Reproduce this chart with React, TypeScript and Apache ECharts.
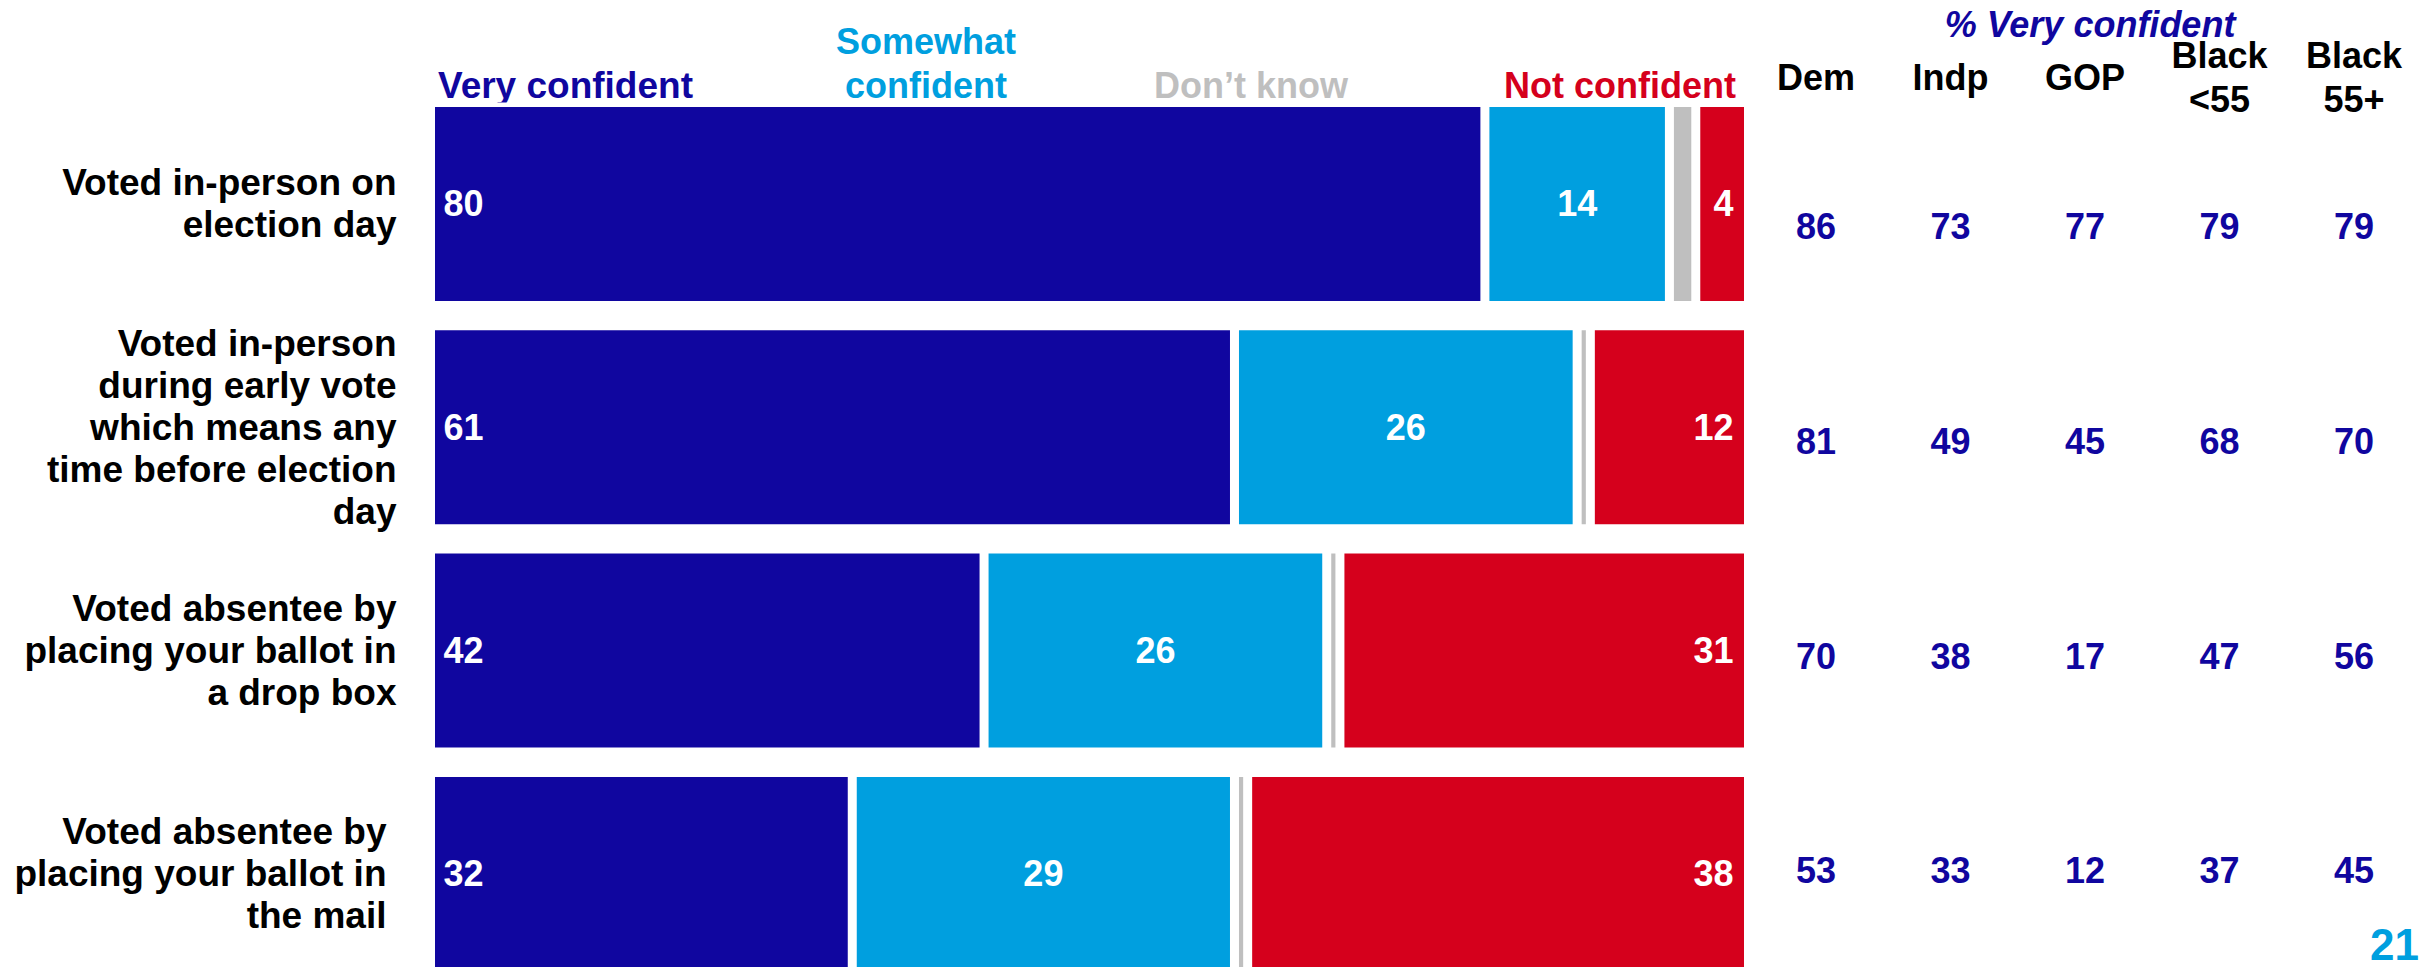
import React, { useEffect, useRef } from "react";
import * as echarts from "echarts";

// ---- Data ----
const categories = [
  "Voted in-person on\nelection day",
  "Voted in-person\nduring early vote\nwhich means any\ntime before election\nday",
  "Voted absentee by\nplacing your ballot in\na drop box",
  "Voted absentee by\nplacing your ballot in\nthe mail",
];
const seriesNames = ["Very confident", "Somewhat confident", "Don’t know", "Not confident"];
const legendLabels = ["Very confident", "Somewhat\nconfident", "Don’t know", "Not confident"];
const veryConfident = [80, 61, 42, 32];
const somewhatConfident = [14, 26, 26, 29];
const dontKnow = [2, 1, 1, 1];
const notConfident = [4, 12, 31, 38];

const groupLabels = ["Dem", "Indp", "GOP", "Black\n<55", "Black\n55+"];
const dem = [86, 81, 70, 53];
const indp = [73, 49, 38, 33];
const gop = [77, 45, 17, 12];
const blackUnder55 = [79, 68, 47, 37];
const black55Plus = [79, 70, 56, 45];
const groupTitle = "% Very confident";
const pageNumber = "21";

// ---- Styles ----
const FONT = '"Liberation Sans", Arial, Helvetica, sans-serif';
const DARK_BLUE = "#10069F";
const LIGHT_BLUE = "#009FDF";
const GRAY = "#BFBFBF";
const RED = "#D5001C";
const colors = [DARK_BLUE, LIGHT_BLUE, GRAY, RED];

export default function App() {
  const ref = useRef<HTMLDivElement>(null);

  useEffect(() => {
    if (!ref.current) return;
    const chart = echarts.init(ref.current, null, { renderer: "svg" });

    const stackValues = [veryConfident, somewhatConfident, dontKnow, notConfident];
    const labelPos = ["insideLeft", "inside", "inside", "insideRight"];
    const labelDist = [13, 5, 5, 15];

    const barSeries = stackValues.map((vals, i) => ({
      name: seriesNames[i],
      type: "bar",
      stack: "total",
      xAxisIndex: 0,
      yAxisIndex: 0,
      barWidth: 203,
      data: vals,
      itemStyle: { color: colors[i], borderColor: "#ffffff", borderWidth: 4.5 },
      label: {
        show: i !== 2,
        position: labelPos[i],
        distance: labelDist[i],
        color: "#ffffff",
        fontFamily: FONT,
        fontWeight: "bold",
        fontSize: 36,
      },
      silent: true,
    }));

    const groupCols = [dem, indp, gop, blackUnder55, black55Plus];
    const tableSeries = groupCols.map((vals, c) => ({
      name: groupLabels[c],
      type: "scatter",
      xAxisIndex: 1,
      yAxisIndex: 1,
      symbolSize: 1,
      itemStyle: { color: "rgba(0,0,0,0)", opacity: 1 },
      data: vals.map((v, r) => [c, r, v]),
      label: {
        show: true,
        position: "inside",
        formatter: (p: any) => String(p.value[2]),
        color: DARK_BLUE,
        opacity: 1,
        fontFamily: FONT,
        fontWeight: "bold",
        fontSize: 36,
      },
      silent: true,
    }));

    const legendX = [438, 926, 1251, 1620];
    const legendAlign = ["left", "center", "center", "center"];
    const legendY = [85, 63, 85, 85];
    const legendSize = [37, 36, 36, 36];

    const graphics: any[] = legendLabels.map((t, i) => ({
      type: "text",
      x: legendX[i],
      y: legendY[i],
      style: {
        text: t,
        fill: colors[i],
        fontFamily: FONT,
        fontWeight: "bold",
        fontSize: legendSize[i],
        lineHeight: 44,
        align: legendAlign[i],
        verticalAlign: "middle",
      },
    }));
    graphics.push({
      type: "text",
      x: 2090,
      y: 24,
      style: {
        text: groupTitle,
        fill: DARK_BLUE,
        fontFamily: FONT,
        fontWeight: "bold",
        fontStyle: "italic",
        fontSize: 36,
        align: "center",
        verticalAlign: "middle",
      },
    });
    graphics.push({
      type: "text",
      x: 2419,
      y: 944,
      style: {
        text: pageNumber,
        fill: LIGHT_BLUE,
        fontFamily: FONT,
        fontWeight: "bold",
        fontSize: 44,
        align: "right",
        verticalAlign: "middle",
      },
    });

    chart.setOption({
      animation: false,
      backgroundColor: "#ffffff",
      grid: [
        { left: 430.5, width: 1318, top: 92.3, height: 893.3, containLabel: false, outerBoundsMode: "none" },
        { left: 1748.75, width: 672.5, top: 119.35, height: 858.8, containLabel: false, outerBoundsMode: "none" },
      ],
      xAxis: [
        { type: "value", gridIndex: 0, min: 0, max: 100, show: false },
        {
          type: "category",
          gridIndex: 1,
          position: "top",
          data: groupLabels,
          axisLine: { show: false },
          axisTick: { show: false },
          splitLine: { show: false },
          axisLabel: {
            interval: 0,
            margin: 42,
            verticalAlign: "middle",
            color: "#000000",
            fontFamily: FONT,
            fontWeight: "bold",
            fontSize: 36,
            lineHeight: 44,
          },
        },
      ],
      yAxis: [
        {
          type: "category",
          gridIndex: 0,
          inverse: true,
          data: categories,
          axisLine: { show: false },
          axisTick: { show: false },
          splitLine: { show: false },
          axisLabel: {
            interval: 0,
            margin: 34,
            align: "right",
            color: "#000000",
            fontFamily: FONT,
            fontWeight: "bold",
            fontSize: 37,
            lineHeight: 42,
            formatter: (v: string, i: number) => (i === 3 ? `{p|${v}}` : `{n|${v}}`),
            rich: {
              n: {
                color: "#000000",
                fontFamily: FONT,
                fontWeight: "bold",
                fontSize: 37,
                lineHeight: 42,
              },
              p: {
                color: "#000000",
                fontFamily: FONT,
                fontWeight: "bold",
                fontSize: 37,
                lineHeight: 42,
                padding: [0, 10, 0, 0],
              },
            },
          },
        },
        {
          type: "category",
          gridIndex: 1,
          inverse: true,
          data: categories.map((_, i) => String(i)),
          show: false,
        },
      ],
      series: [...barSeries, ...tableSeries],
      graphic: graphics,
    });

    return () => chart.dispose();
  }, []);

  return (
    <div
      ref={ref}
      style={{ position: "fixed", left: 0, top: 0, width: 2435, height: 967, background: "#fff" }}
    />
  );
}
